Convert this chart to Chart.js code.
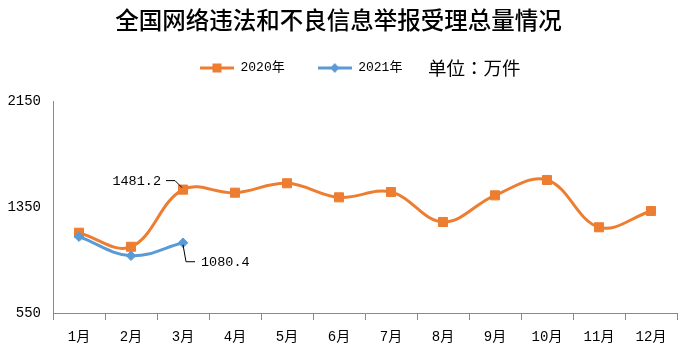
<!DOCTYPE html>
<html><head><meta charset="utf-8">
<script src="https://cdn.jsdelivr.net/npm/chart.js@4/dist/chart.umd.min.js"></script>
<style>html,body{margin:0;padding:0;background:#fff;}#wrap{width:685px;height:362px;}</style>
</head><body><div id="wrap"><canvas id="c" width="685" height="362"></canvas></div>
<script>
const titleText = '全国网络违法和不良信息举报受理总量情况';
const unitText = '单位：万件';
const months = ['1月','2月','3月','4月','5月','6月','7月','8月','9月','10月','11月','12月'];
const seriesNames = ['2020年', '2021年'];
const values2020 = [1156, 1050, 1481.2, 1458, 1529, 1423, 1463, 1237, 1438, 1554, 1197, 1320];
const values2021 = [1126, 982, 1080.4];
const yTicks = [550, 1350, 2150];
const labelledPoints = [
  { series: 0, index: 2, text: '1481.2' },
  { series: 1, index: 2, text: '1080.4' }
];

const ORANGE = '#ED7D31', BLUE = '#5B9BD5', AXIS = '#898989';
const monoFont = "'Liberation Mono', 'Noto Sans CJK SC', monospace";

function legendSymbol(color, style) {
  const c = document.createElement('canvas');
  c.width = 34; c.height = 12;
  const g = c.getContext('2d');
  g.strokeStyle = color; g.lineWidth = 3;
  g.beginPath(); g.moveTo(0, 6); g.lineTo(34, 6); g.stroke();
  g.fillStyle = color;
  if (style === 'rect') {
    g.fillRect(12.5, 1.5, 9, 9);
  } else {
    g.beginPath(); g.moveTo(17, 1); g.lineTo(21.5, 6); g.lineTo(17, 11); g.lineTo(12.5, 6); g.closePath(); g.fill();
  }
  return c;
}

const placementPlugin = {
  id: 'placement',
  afterLayout(chart) {
    const lg = chart.legend;
    if (lg) {
      const dx = 167 - lg.left;
      lg.left += dx; lg.right += dx;
      lg.top = 68 - 33 - 6.5;
    }
  },
  afterDraw(chart) {
    const ctx = chart.ctx;
    ctx.save();
    ctx.fillStyle = '#000';
    ctx.font = "18.5px 'Noto Sans CJK JP'";
    ctx.textAlign = 'left';
    ctx.textBaseline = 'middle';
    ctx.fillText(unitText, 428, 68);
    ctx.restore();
  },
  afterDatasetsDraw(chart) {
    const ctx = chart.ctx;
    ctx.save();
    ctx.strokeStyle = '#000';
    ctx.lineWidth = 1;
    ctx.fillStyle = '#000';
    ctx.font = '13.5px ' + monoFont;
    ctx.textBaseline = 'middle';
    labelledPoints.forEach((p, k) => {
      const el = chart.getDatasetMeta(p.series).data[p.index];
      const x = el.x, y = el.y;
      ctx.beginPath();
      if (k === 0) {
        ctx.moveTo(x - 17, y - 9); ctx.lineTo(x - 8, y - 9); ctx.lineTo(x - 1, y - 2);
        ctx.stroke();
        ctx.textAlign = 'right';
        ctx.fillText(p.text, x - 22, y - 8);
      } else {
        ctx.moveTo(x, y + 2); ctx.lineTo(x + 3, y + 19); ctx.lineTo(x + 12, y + 19);
        ctx.stroke();
        ctx.textAlign = 'left';
        ctx.fillText(p.text, x + 18, y + 20);
      }
    });
    ctx.restore();
  }
};

const symbols = [legendSymbol(ORANGE, 'rect'), legendSymbol(BLUE, 'rectRot')];

new Chart(document.getElementById('c'), {
  type: 'line',
  data: {
    labels: months,
    datasets: [
      {
        label: seriesNames[0], data: values2020,
        borderColor: ORANGE, backgroundColor: ORANGE, borderWidth: 3,
        pointStyle: 'rect', pointRadius: 6.4, pointBackgroundColor: ORANGE, pointBorderColor: ORANGE, pointBorderWidth: 1,
        tension: 0.38, fill: false, order: 1
      },
      {
        label: seriesNames[1], data: values2021,
        borderColor: BLUE, backgroundColor: BLUE, borderWidth: 3,
        pointStyle: 'rectRot', pointRadius: 4.8, pointBackgroundColor: BLUE, pointBorderColor: BLUE, pointBorderWidth: 1,
        tension: 0.38, fill: false, order: 0
      }
    ]
  },
  options: {
    responsive: false,
    animation: false,
    devicePixelRatio: 1,
    layout: { padding: { left: 0, right: 8, top: 0, bottom: 0 } },
    plugins: {
      title: {
        display: true, text: titleText, color: '#000',
        font: { family: "'Noto Sans CJK SC'", size: 23.5, weight: '500', lineHeight: 1.2 },
        padding: { top: 6, bottom: 10.8 }
      },
      legend: {
        display: true, position: 'top', align: 'start',
        labels: {
          usePointStyle: true, pointStyleWidth: 34, boxHeight: 12, padding: 33,
          color: '#000', font: { family: monoFont, size: 13 },
          generateLabels(chart) {
            return chart.data.datasets.map((ds, i) => ({
              text: ds.label, pointStyle: symbols[i], fillStyle: ds.borderColor,
              strokeStyle: ds.borderColor, lineWidth: 0, hidden: false, datasetIndex: i, fontColor: '#000'
            }));
          }
        }
      },
      tooltip: { enabled: false }
    },
    scales: {
      x: {
        offset: true,
        grid: { display: true, offset: true, drawOnChartArea: false, drawTicks: true, tickLength: 7, color: AXIS, lineWidth: 1 },
        border: { display: true, color: AXIS, width: 1 },
        ticks: { color: '#000', font: { family: monoFont, size: 14 }, padding: 9, maxRotation: 0, autoSkip: false },
        afterFit(scale) { scale.height = 49; }
      },
      y: {
        min: 550, max: 2150,
        grid: { display: false, drawTicks: false },
        border: { display: true, color: AXIS, width: 1 },
        ticks: { color: '#000', font: { family: monoFont, size: 14 }, padding: 12, callback: v => String(v) },
        afterBuildTicks(scale) { scale.ticks = yTicks.map(v => ({ value: v })); },
        afterFit(scale) { scale.width = 53; }
      }
    }
  },
  plugins: [placementPlugin]
});
</script>
</body></html>
